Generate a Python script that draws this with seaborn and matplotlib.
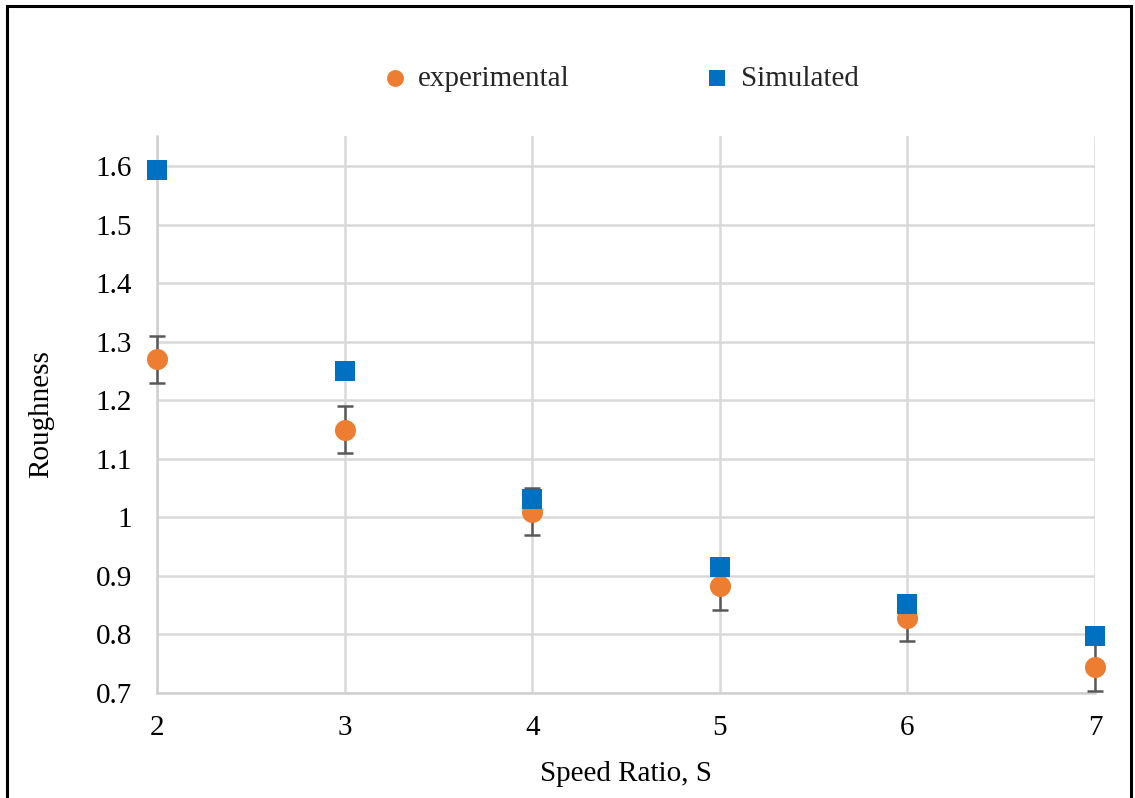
import matplotlib
matplotlib.use("Agg")
import matplotlib.pyplot as plt
from matplotlib.patches import Rectangle
import pandas as pd
import seaborn as sns

speed_ratio = [2, 3, 4, 5, 6, 7]
experimental = [1.27, 1.15, 1.01, 0.882, 0.828, 0.744]
experimental_err = [0.04, 0.04, 0.04, 0.04, 0.04, 0.04]
simulated = [1.594, 1.251, 1.031, 0.915, 0.852, 0.797]
series_names = ["experimental", "Simulated"]
y_ticks = [0.7, 0.8, 0.9, 1.0, 1.1, 1.2, 1.3, 1.4, 1.5, 1.6]
y_tick_labels = ["0.7", "0.8", "0.9", "1", "1.1", "1.2", "1.3", "1.4", "1.5", "1.6"]

df = pd.DataFrame({
    "Speed Ratio, S": speed_ratio * 2,
    "Roughness": experimental + simulated,
    "series": [series_names[0]] * len(speed_ratio) + [series_names[1]] * len(speed_ratio),
})

sns.set_theme(style="white")
plt.rcParams["font.family"] = ["Liberation Serif", "DejaVu Serif"]
FS = 21

fig = plt.figure(figsize=(11.35, 7.98), dpi=100)
ax = fig.add_axes([0.1383, 0.1316, 0.8265, 0.698])

colors = {"experimental": "#ED7D31", "Simulated": "#0070C0"}

eb = ax.errorbar(speed_ratio, experimental, yerr=experimental_err, fmt="none",
                 ecolor="#595959", elinewidth=1.8, capsize=6, capthick=1.8, zorder=2)
for artist in eb.get_children():
    artist.set_clip_on(False)

sns.scatterplot(data=df[df.series == "experimental"], x="Speed Ratio, S", y="Roughness",
                color=colors["experimental"], marker="o", s=230, linewidth=0,
                ax=ax, zorder=3, label="experimental", clip_on=False)
sns.scatterplot(data=df[df.series == "Simulated"], x="Speed Ratio, S", y="Roughness",
                color=colors["Simulated"], marker="s", s=190, linewidth=0,
                ax=ax, zorder=4, label="Simulated", clip_on=False)

ax.set_xlim(2, 7)
ax.set_ylim(0.7, 1.652)
ax.set_yticks(y_ticks)
ax.set_yticklabels(y_tick_labels)
ax.set_xticks(speed_ratio)
ax.set_xticklabels([str(v) for v in speed_ratio])
ax.tick_params(axis="y", length=0, pad=18, labelsize=FS, labelcolor="black")
ax.tick_params(axis="x", length=0, pad=16, labelsize=FS, labelcolor="black")

ax.grid(True, color="#D9D9D9", linewidth=1.8)
ax.set_axisbelow(True)
for side in ["top", "right"]:
    ax.spines[side].set_visible(False)
for side in ["left", "bottom"]:
    ax.spines[side].set_color("#D0D0D0")
    ax.spines[side].set_linewidth(1.8)
    ax.spines[side].set_zorder(1)

ax.set_xlabel("Speed Ratio, S", fontsize=FS, labelpad=14, color="black")
ax.set_ylabel("Roughness", fontsize=FS, labelpad=30, color="black")

leg = ax.legend(loc="center", bbox_to_anchor=(0.493, 1.103), ncol=2, frameon=False,
                fontsize=FS, handlelength=1.0, handletextpad=0.3, columnspacing=4.55,
                markerscale=0.8)

fig.patches.append(Rectangle((7 / 1135, -0.05), (1131 - 7) / 1135, 1.05 - 6 / 798,
                             transform=fig.transFigure, fill=False,
                             edgecolor="black", linewidth=2.2, clip_on=False))

fig.savefig("out.png", dpi=100, facecolor="white")
